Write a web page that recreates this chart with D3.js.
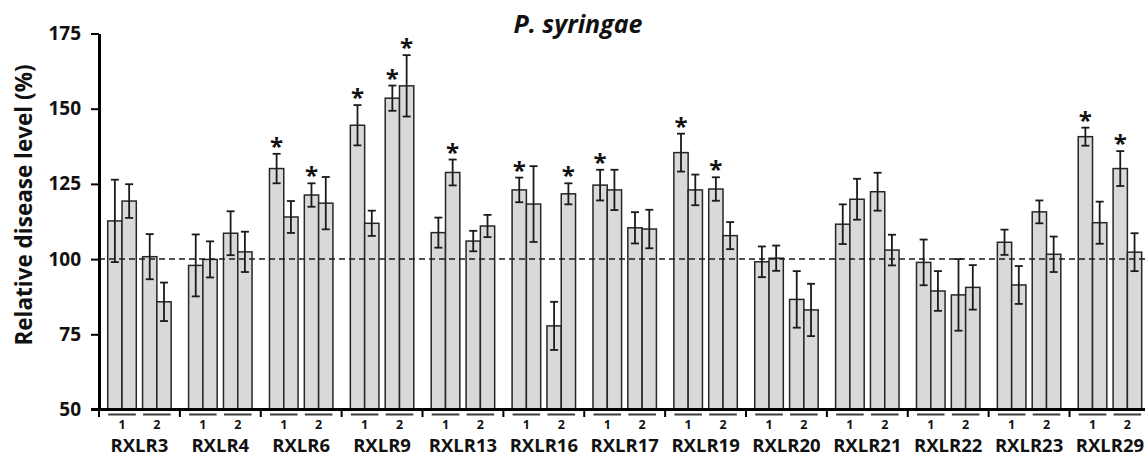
<!DOCTYPE html>
<html>
<head>
<meta charset="utf-8">
<script src="https://cdn.jsdelivr.net/npm/d3@7"></script>
<style>
  body { margin: 0; background: #fff; }
  text { font-family: "Open Sans", "DejaVu Sans", sans-serif; font-weight: bold; fill: #111; }
</style>
</head>
<body>
<div id="chart"></div>
<script>
// effectors and the two lines tested for each
var groups = ["RXLR3", "RXLR4", "RXLR6", "RXLR9", "RXLR13", "RXLR16", "RXLR17",
              "RXLR19", "RXLR20", "RXLR21", "RXLR22", "RXLR23", "RXLR29"];
var lines = ["1", "2"];
var reps = [0, 1];

// mean disease level per group: [line1 bar a, line1 bar b, line2 bar a, line2 bar b]
var means = [
  [112.7, 119.3, 100.8, 85.8],
  [97.9, 99.9, 108.6, 102.4],
  [130.1, 114.0, 121.3, 118.6],
  [144.5, 111.9, 153.5, 157.6],
  [108.8, 128.8, 106.0, 111.0],
  [123.0, 118.3, 77.8, 121.7],
  [124.6, 123.0, 110.4, 110.0],
  [135.4, 123.0, 123.3, 107.8],
  [99.1, 100.3, 86.6, 83.1],
  [111.6, 119.9, 122.4, 103.0],
  [98.9, 89.4, 88.1, 90.6],
  [105.6, 91.4, 115.7, 101.6],
  [140.7, 112.1, 130.1, 102.3]
];

// error bar half-lengths, same layout
var errors = [
  [13.7, 5.6, 7.5, 6.4],
  [10.3, 6.0, 7.3, 6.7],
  [4.9, 5.3, 3.9, 8.7],
  [6.7, 4.2, 4.2, 10.2],
  [5.0, 4.3, 3.4, 3.7],
  [4.1, 12.6, 8.0, 3.5],
  [5.1, 6.7, 5.2, 6.4],
  [6.3, 5.1, 3.9, 4.5],
  [5.1, 4.2, 9.4, 8.7],
  [6.6, 6.8, 6.3, 5.1],
  [7.6, 6.6, 11.9, 7.4],
  [4.2, 6.3, 3.8, 5.9],
  [3.0, 7.0, 5.8, 6.3]
];

// significance marks (1 = asterisk)
var stars = [
  [0, 0, 0, 0],
  [0, 0, 0, 0],
  [1, 0, 1, 0],
  [1, 0, 1, 1],
  [0, 1, 0, 0],
  [1, 0, 0, 1],
  [1, 0, 0, 0],
  [1, 0, 1, 0],
  [0, 0, 0, 0],
  [0, 0, 0, 0],
  [0, 0, 0, 0],
  [0, 0, 0, 0],
  [1, 0, 1, 0]
];

var yTicks = [50, 75, 100, 125, 150, 175];
var baseline = 100;

// flatten into one row per bar
var bars = [];
groups.forEach(function(g, gi) {
  lines.forEach(function(l, li) {
    reps.forEach(function(r) {
      var k = li * 2 + r;
      bars.push({ group: g, line: l, rep: r, value: means[gi][k], err: errors[gi][k], star: stars[gi][k] });
    });
  });
});

var svgWidth = 1145;
var svgHeight = 457;

var svg = d3.select("#chart")
  .append("svg")
  .attr("width", svgWidth)
  .attr("height", svgHeight);

// scales
var x0 = d3.scaleBand()
  .domain(groups)
  .range([99, 1150.4])
  .padding(0);

var x1 = d3.scaleBand()
  .domain(lines)
  .range([0, x0.bandwidth()])
  .paddingInner(0.18)
  .paddingOuter(0.25);

var x2 = d3.scaleBand()
  .domain(reps)
  .range([0, x1.bandwidth()])
  .padding(0);

var y = d3.scaleLinear()
  .domain([50, 175])
  .range([409.5, 33.5]);

function barX(d) {
  return x0(d.group) + x1(d.line) + x2(d.rep);
}

// bars
svg.append("g")
  .selectAll("rect")
  .data(bars)
  .enter()
  .append("rect")
  .attr("x", barX)
  .attr("y", d => y(d.value))
  .attr("width", x2.bandwidth())
  .attr("height", d => y(50) - y(d.value))
  .attr("fill", "#d9d9d9")
  .attr("stroke", "#262626")
  .attr("stroke-width", 1.5);

// dashed reference line at 100%
svg.append("line")
  .attr("x1", 99)
  .attr("x2", svgWidth)
  .attr("y1", y(baseline))
  .attr("y2", y(baseline))
  .attr("stroke", "#1a1a1a")
  .attr("stroke-width", 1.5)
  .attr("stroke-dasharray", "6,4");

// error bars
var errG = svg.append("g")
  .attr("stroke", "#1a1a1a")
  .attr("stroke-width", 1.8);

var cap = 4;
bars.forEach(function(d) {
  var cx = barX(d) + x2.bandwidth() / 2;
  var top = y(d.value + d.err);
  var bot = y(d.value - d.err);
  errG.append("line").attr("x1", cx).attr("x2", cx).attr("y1", top).attr("y2", bot);
  errG.append("line").attr("x1", cx - cap).attr("x2", cx + cap).attr("y1", top).attr("y2", top);
  errG.append("line").attr("x1", cx - cap).attr("x2", cx + cap).attr("y1", bot).attr("y2", bot);
});

// asterisks
svg.append("g")
  .selectAll("text")
  .data(bars.filter(d => d.star))
  .enter()
  .append("text")
  .attr("x", d => barX(d) + x2.bandwidth() / 2)
  .attr("y", d => y(d.value + d.err) + 1)
  .attr("text-anchor", "middle")
  .style("font-size", "24px")
  .text("*");

// y axis
var yAxis = svg.append("g")
  .attr("transform", "translate(99,0)")
  .call(d3.axisLeft(y).tickValues(yTicks).tickSize(8).tickSizeOuter(0).tickPadding(10));

yAxis.select(".domain").attr("stroke", "#000").attr("stroke-width", 3);
yAxis.selectAll(".tick line").attr("stroke", "#000").attr("stroke-width", 2);
yAxis.selectAll(".tick text")
  .style("font-size", "19px")
  .style("font-family", "'Open Sans', sans-serif")
  .style("font-weight", "bold")
  .attr("fill", "#111");

// x axis line
svg.append("line")
  .attr("x1", 91)
  .attr("x2", svgWidth)
  .attr("y1", y(50))
  .attr("y2", y(50))
  .attr("stroke", "#000")
  .attr("stroke-width", 3);

// group boundary ticks
var bounds = groups.map(g => x0(g)).concat([x0(groups[groups.length - 1]) + x0.bandwidth()]);
svg.append("g")
  .selectAll("line")
  .data(bounds)
  .enter()
  .append("line")
  .attr("x1", d => d)
  .attr("x2", d => d)
  .attr("y1", y(50))
  .attr("y2", 417)
  .attr("stroke", "#000")
  .attr("stroke-width", 2);

// line underlines and labels
var subs = [];
groups.forEach(function(g) {
  lines.forEach(function(l) { subs.push({ group: g, line: l }); });
});

svg.append("g")
  .selectAll("line")
  .data(subs)
  .enter()
  .append("line")
  .attr("x1", d => x0(d.group) + x1(d.line) + 0.5)
  .attr("x2", d => x0(d.group) + x1(d.line) + x1.bandwidth() - 0.5)
  .attr("y1", 414.5)
  .attr("y2", 414.5)
  .attr("stroke", "#3c3c3c")
  .attr("stroke-width", 2);

svg.append("g")
  .selectAll("text")
  .data(subs)
  .enter()
  .append("text")
  .attr("x", d => x0(d.group) + x1(d.line) + x1.bandwidth() / 2)
  .attr("y", 428.5)
  .attr("text-anchor", "middle")
  .style("font-size", "12.5px")
  .text(d => d.line);

svg.append("g")
  .selectAll("text")
  .data(groups)
  .enter()
  .append("text")
  .attr("x", d => x0(d) + x0.bandwidth() / 2)
  .attr("y", 451.5)
  .attr("text-anchor", "middle")
  .style("font-size", "18.5px")
  .text(d => d);

// y axis title
svg.append("text")
  .attr("transform", "translate(32," + 205 + ") rotate(-90)")
  .attr("text-anchor", "middle")
  .style("font-size", "22.5px")
  .text("Relative disease level (%)");

// chart title
svg.append("text")
  .attr("x", 578)
  .attr("y", 33)
  .attr("text-anchor", "middle")
  .style("font-size", "25px")
  .style("font-style", "italic")
  .text("P. syringae");
</script>
</body>
</html>
